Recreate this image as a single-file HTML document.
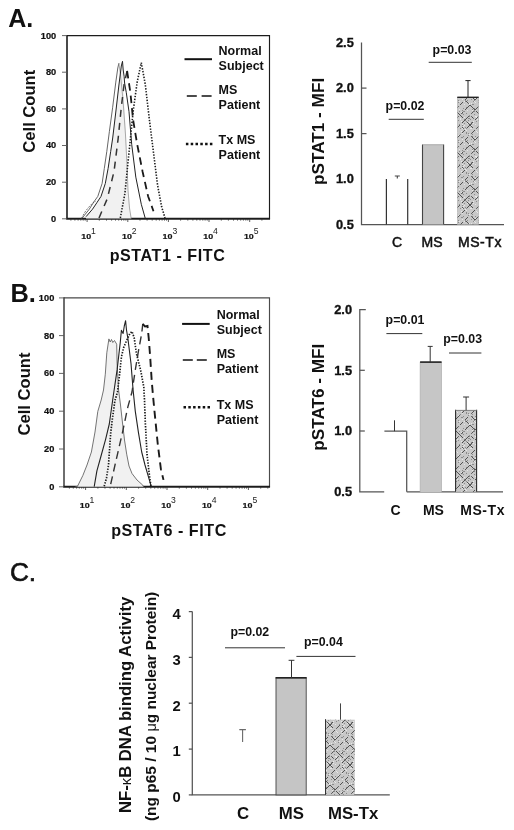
<!DOCTYPE html>
<html><head><meta charset="utf-8"><title>Figure</title>
<style>
html,body{margin:0;padding:0;background:#fff;}
body{width:514px;height:830px;overflow:hidden;}
svg{display:block;font-family:"Liberation Sans",sans-serif;}
.b{font-weight:bold;}
.ax{stroke:#555;stroke-width:1.25;fill:none;}
.tk{font-size:8.5px;font-weight:bold;fill:#111;stroke:#111;stroke-width:0.2;}
.sup{font-size:8.6px;fill:#222;}
.lg{font-size:12.5px;font-weight:bold;fill:#111;}
.pv{font-size:12.35px;font-weight:bold;fill:#111;}
.yt{font-size:12.8px;font-weight:bold;fill:#111;stroke:#111;stroke-width:0.35;}
.xl{font-size:14px;fill:#111;stroke:#111;stroke-width:0.5;}
.xlb{font-size:14px;fill:#111;font-weight:bold;}
</style></head><body>
<svg width="514" height="830" viewBox="0 0 514 830">
<defs>
<pattern id="hatch" width="20" height="40" patternUnits="userSpaceOnUse">
<rect width="20" height="40" fill="#c8c8c8"/>
<path d="M8 0.5h1M19 21.5h1M9 24.5h1M2 4.5h1M2 13.5h1M18 15.5h1M0 38.5h1M11 23.5h1M19 29.5h1M4 37.5h1M15 36.5h1M4 24.5h1M5 9.5h1M9 14.5h1M19 15.5h1M6 10.5h1M17 12.5h1M12 30.5h1M19 5.5h1M13 3.5h1M3 6.5h1M1 32.5h1M8 15.5h1M12 16.5h1M13 38.5h1M15 18.5h1M16 11.5h1M2 8.5h1M7 30.5h1M17 39.5h1M19 4.5h1M8 13.5h1M6 1.5h1M2 17.5h1M13 28.5h1M7 3.5h1M1 11.5h1M9 23.5h1M16 36.5h1M4 5.5h1M11 8.5h1M14 21.5h1M16 37.5h1M4 37.5h1M1 1.5h1M15 22.5h1M9 2.5h1M0 38.5h1M2 30.5h1M2 19.5h1M10 8.5h1M2 4.5h1M14 34.5h1M11 2.5h1M4 21.5h1M11 5.5h1M15 4.5h1M13 1.5h1M15 36.5h1M0 39.5h1" stroke="#e6e6e6" stroke-width="1" fill="none"/>
<path d="M12 24.5h1M18 0.5h1M19 4.5h1M2 5.5h1M3 16.5h1M13 21.5h1M12 37.5h1M14 28.5h1M14 34.5h1M2 33.5h1M16 1.5h1M9 38.5h1M2 30.5h1M0 14.5h1M3 31.5h1M19 31.5h1M8 0.5h1M11 19.5h1M4 39.5h1M6 33.5h1M5 21.5h1M14 31.5h1M7 20.5h1M12 16.5h1M6 27.5h1M6 13.5h1M12 14.5h1M18 20.5h1M6 8.5h1M4 31.5h1M11 2.5h1M2 17.5h1M5 7.5h1M14 30.5h1M8 13.5h1M13 24.5h1M16 31.5h1M10 39.5h1M14 20.5h1M2 2.5h1M8 38.5h1M1 17.5h1M18 22.5h1M9 36.5h1M0 8.5h1M12 29.5h1M6 1.5h1M8 15.5h1M4 3.5h1M3 28.5h1M3 34.5h1M11 4.5h1M6 12.5h1M15 16.5h1M5 0.5h1" stroke="#8c8c8c" stroke-width="1" fill="none"/>
<path d="M2.0 7.0L3.8 8.8 M2.0 3.0L5.0 0.0 M2.0 13.0L5.0 10.0 M0.0 25.0L3.0 22.0 M0.0 35.0L3.0 38.0 M1.2 33.8L3.0 32.0 M7.0 2.0L10.0 5.0 M5.0 0.0L10.0 -5.0 M7.0 8.0L10.0 5.0 M5.5 20.5L8.8 23.8 M5.0 20.0L8.0 17.0 M5.0 30.0L10.0 25.0 M5.5 40.5L8.8 43.8 M5.0 40.0L9.5 35.5 M10.0 5.0L13.0 8.0 M10.0 5.0L13.0 2.0 M11.2 16.2L15.0 20.0 M11.2 13.8L15.0 10.0 M10.0 25.0L15.0 30.0 M11.2 36.2L13.8 38.8 M11.2 33.8L13.8 31.2 M15.5 -0.5L19.5 -4.5 M16.2 8.8L20.0 5.0 M15.0 20.0L20.0 15.0 M16.2 31.2L20.0 35.0 M15.0 30.0L18.8 26.2 M15.0 40.0L18.8 43.8 M15.0 40.0L18.8 36.2 M20.0 5.0L25.0 10.0 M22.0 17.0L24.5 19.5 M20.0 15.0L25.0 10.0 M22.0 23.0L23.0 22.0 M20.0 35.0L23.8 31.2" stroke="#333" stroke-width="0.8" fill="none"/>
</pattern>
</defs>
<rect width="514" height="830" fill="#fff"/>

<text transform="translate(8.2 26.6) scale(0.95 1)" text-anchor="start" font-size="26.4px" class="b" fill="#111" >A.</text>
<path d="M67 35.6H269.5V218.8" stroke="#1c1c1c" stroke-width="1.15" fill="none"/>
<path d="M67 35.050000000000004V218.8" stroke="#1c1c1c" stroke-width="1.6" fill="none"/>
<line x1="66.2" y1="218.8" x2="270.05" y2="218.8" stroke="#1c1c1c" stroke-width="2"/>
<line x1="62" y1="35.6" x2="67" y2="35.6" stroke="#555" stroke-width="0.9"/>
<text transform="translate(56.2 38.5) scale(1.09 1)" text-anchor="end" class="tk">100</text>
<line x1="62" y1="72.2" x2="67" y2="72.2" stroke="#555" stroke-width="0.9"/>
<text transform="translate(56.2 75.1) scale(1.09 1)" text-anchor="end" class="tk">80</text>
<line x1="62" y1="108.9" x2="67" y2="108.9" stroke="#555" stroke-width="0.9"/>
<text transform="translate(56.2 111.8) scale(1.09 1)" text-anchor="end" class="tk">60</text>
<line x1="62" y1="145.5" x2="67" y2="145.5" stroke="#555" stroke-width="0.9"/>
<text transform="translate(56.2 148.4) scale(1.09 1)" text-anchor="end" class="tk">40</text>
<line x1="62" y1="182.2" x2="67" y2="182.2" stroke="#555" stroke-width="0.9"/>
<text transform="translate(56.2 185.1) scale(1.09 1)" text-anchor="end" class="tk">20</text>
<line x1="62" y1="218.8" x2="67" y2="218.8" stroke="#555" stroke-width="0.9"/>
<text transform="translate(56.2 221.7) scale(1.09 1)" text-anchor="end" class="tk">0</text>
<path d="M70.9 218.8v1.8 M74.9 218.8v1.8 M78.1 218.8v1.8 M80.8 218.8v1.8 M83.2 218.8v1.8 M85.2 218.8v1.8 M87.1 218.8v3.2 M99.3 218.8v1.8 M106.5 218.8v1.8 M111.6 218.8v1.8 M115.5 218.8v1.8 M118.7 218.8v1.8 M121.5 218.8v1.8 M123.8 218.8v1.8 M125.9 218.8v1.8 M127.8 218.8v3.2 M140.0 218.8v1.8 M147.1 218.8v1.8 M152.2 218.8v1.8 M156.2 218.8v1.8 M159.4 218.8v1.8 M162.1 218.8v1.8 M164.5 218.8v1.8 M166.5 218.8v1.8 M168.4 218.8v3.2 M180.6 218.8v1.8 M187.8 218.8v1.8 M192.9 218.8v1.8 M196.8 218.8v1.8 M200.0 218.8v1.8 M202.8 218.8v1.8 M205.1 218.8v1.8 M207.2 218.8v1.8 M209.0 218.8v3.2 M221.3 218.8v1.8 M228.4 218.8v1.8 M233.5 218.8v1.8 M237.5 218.8v1.8 M240.7 218.8v1.8 M243.4 218.8v1.8 M245.8 218.8v1.8 M247.8 218.8v1.8 M249.7 218.8v3.2 M261.9 218.8v1.8" stroke="#333" stroke-width="0.8" fill="none"/>
<text transform="translate(81.3 239) scale(1.14 1)" class="tk" style="font-size:7.8px">10</text><text x="91.1" y="234.1" class="sup">1</text>
<text transform="translate(122.0 239) scale(1.14 1)" class="tk" style="font-size:7.8px">10</text><text x="131.8" y="234.1" class="sup">2</text>
<text transform="translate(162.6 239) scale(1.14 1)" class="tk" style="font-size:7.8px">10</text><text x="172.4" y="234.1" class="sup">3</text>
<text transform="translate(203.2 239) scale(1.14 1)" class="tk" style="font-size:7.8px">10</text><text x="213.0" y="234.1" class="sup">4</text>
<text transform="translate(243.9 239) scale(1.14 1)" class="tk" style="font-size:7.8px">10</text><text x="253.7" y="234.1" class="sup">5</text>
<polygon points="86.0,216.7 92.5,209.2 96.8,202.8 101.0,196.4 105.3,183.5 108.1,168.5 110.7,151.4 112.7,138.0 115.8,112.0 118.8,86.0 121.3,66.0 122.5,61.3 124.0,100.0 126.0,135.0 127.0,165.0 128.0,190.0 129.5,208.0 131.2,218.5 86.0,218.5" fill="#f1f1f1" stroke="none"/>
<polyline points="81.8,218.5 89.3,209.2 94.0,201.7 97.8,196.4 102.1,183.5 104.3,168.5 106.8,151.4 109.4,131.4 112.6,107.8 115.8,82.1 117.8,68.0 118.9,63.2" fill="none" stroke="#4a4a4a" stroke-width="0.85"/>
<polyline points="118.9,63.2 120.5,75.0 123.0,100.0 125.5,135.0 127.0,165.0 128.0,190.0 129.5,208.0 131.2,218.5" fill="none" stroke="#888" stroke-width="0.7"/>
<polyline points="81.4,218.3 85.0,212.0 88.0,208.0 93.1,202.5 96.0,201.3" fill="none" stroke="#555" stroke-width="0.8" stroke-dasharray="2 1.2"/>
<polyline points="86.0,216.7 92.5,209.2 96.8,202.8 101.0,196.4 105.3,183.5 108.1,168.5 110.7,151.4 112.7,138.0 115.8,112.0 118.8,86.0 121.3,66.0 122.5,61.3 123.2,70.0 124.1,76.3 124.6,83.0 126.3,92.7 129.0,111.7 131.7,144.4 135.8,177.1 141.3,204.3 145.3,218.5" fill="none" stroke="#222" stroke-width="1" stroke-linejoin="round"/>
<polyline points="99.0,218.0 107.2,198.9 114.0,171.7 118.1,139.0 121.4,106.3 124.1,84.5 127.1,70.9" fill="none" stroke="#333" stroke-width="1.5" stroke-dasharray="7 6"/>
<polyline points="127.1,70.9 130.4,92.7 133.1,119.9 137.2,144.4 142.6,171.7 148.1,196.2 153.5,211.2" fill="none" stroke="#1a1a1a" stroke-width="1.8" stroke-dasharray="7.5 5"/>
<polyline points="120.3,218.0 124.9,193.5 127.6,166.2 130.4,139.0 133.1,111.7 137.2,81.8 141.3,62.7 145.3,84.5 149.4,119.9 153.5,152.6 157.6,185.3 161.7,207.1 165.0,218.0" fill="none" stroke="#1c1c1c" stroke-width="1.6" stroke-dasharray="1.4 1.5"/>
<line x1="184.5" y1="59.2" x2="212" y2="59.2" stroke="#111" stroke-width="2"/>
<text x="218.6" y="54.5" class="lg">Normal</text><text x="218.6" y="69.7" class="lg">Subject</text>
<line x1="186.8" y1="96" x2="211.6" y2="96" stroke="#111" stroke-width="1.5" stroke-dasharray="10 4.8"/>
<text x="218.6" y="93.5" class="lg">MS</text><text x="218.6" y="108.7" class="lg">Patient</text>
<line x1="185.9" y1="144" x2="212.5" y2="144" stroke="#111" stroke-width="2.5" stroke-dasharray="2.5 2.3"/>
<text x="218.6" y="144.4" class="lg">Tx MS</text><text x="218.6" y="159.3" class="lg">Patient</text>
<text transform="translate(167.5 261.3)" text-anchor="middle" font-size="16.1px" class="b" fill="#111" letter-spacing="0.55">pSTAT1 - FITC</text>
<text transform="translate(34.8 111.2) rotate(-90)" text-anchor="middle" font-size="16.6px" class="b" fill="#111">Cell Count</text>
<text transform="translate(10.4 301.6)" text-anchor="start" font-size="25.4px" class="b" fill="#111" >B.</text>
<path d="M64 297.85H269.5V486.8" stroke="#4a4a4a" stroke-width="1.15" fill="none"/>
<path d="M64 297.3V486.8" stroke="#4a4a4a" stroke-width="1.6" fill="none"/>
<line x1="63.2" y1="486.8" x2="270.05" y2="486.8" stroke="#1c1c1c" stroke-width="2"/>
<line x1="59" y1="297.9" x2="64" y2="297.9" stroke="#555" stroke-width="0.9"/>
<text transform="translate(54.3 300.8) scale(1.09 1)" text-anchor="end" class="tk">100</text>
<line x1="59" y1="335.6" x2="64" y2="335.6" stroke="#555" stroke-width="0.9"/>
<text transform="translate(54.3 338.5) scale(1.09 1)" text-anchor="end" class="tk">80</text>
<line x1="59" y1="373.4" x2="64" y2="373.4" stroke="#555" stroke-width="0.9"/>
<text transform="translate(54.3 376.3) scale(1.09 1)" text-anchor="end" class="tk">60</text>
<line x1="59" y1="411.2" x2="64" y2="411.2" stroke="#555" stroke-width="0.9"/>
<text transform="translate(54.3 414.1) scale(1.09 1)" text-anchor="end" class="tk">40</text>
<line x1="59" y1="449.0" x2="64" y2="449.0" stroke="#555" stroke-width="0.9"/>
<text transform="translate(54.3 451.9) scale(1.09 1)" text-anchor="end" class="tk">20</text>
<line x1="59" y1="486.8" x2="64" y2="486.8" stroke="#555" stroke-width="0.9"/>
<text transform="translate(54.3 489.7) scale(1.09 1)" text-anchor="end" class="tk">0</text>
<path d="M69.4 486.8v1.8 M73.3 486.8v1.8 M76.6 486.8v1.8 M79.3 486.8v1.8 M81.7 486.8v1.8 M83.7 486.8v1.8 M85.6 486.8v3.2 M97.9 486.8v1.8 M105.0 486.8v1.8 M110.1 486.8v1.8 M114.0 486.8v1.8 M117.3 486.8v1.8 M120.0 486.8v1.8 M122.4 486.8v1.8 M124.4 486.8v1.8 M126.3 486.8v3.2 M138.6 486.8v1.8 M145.7 486.8v1.8 M150.8 486.8v1.8 M154.7 486.8v1.8 M158.0 486.8v1.8 M160.7 486.8v1.8 M163.1 486.8v1.8 M165.1 486.8v1.8 M167.0 486.8v3.2 M179.3 486.8v1.8 M186.4 486.8v1.8 M191.5 486.8v1.8 M195.4 486.8v1.8 M198.7 486.8v1.8 M201.4 486.8v1.8 M203.8 486.8v1.8 M205.8 486.8v1.8 M207.7 486.8v3.2 M220.0 486.8v1.8 M227.1 486.8v1.8 M232.2 486.8v1.8 M236.1 486.8v1.8 M239.4 486.8v1.8 M242.1 486.8v1.8 M244.5 486.8v1.8 M246.5 486.8v1.8 M248.4 486.8v3.2 M260.7 486.8v1.8 M267.8 486.8v1.8" stroke="#333" stroke-width="0.8" fill="none"/>
<text transform="translate(79.8 507.5) scale(1.14 1)" class="tk" style="font-size:7.8px">10</text><text x="89.6" y="502.6" class="sup">1</text>
<text transform="translate(120.5 507.5) scale(1.14 1)" class="tk" style="font-size:7.8px">10</text><text x="130.3" y="502.6" class="sup">2</text>
<text transform="translate(161.2 507.5) scale(1.14 1)" class="tk" style="font-size:7.8px">10</text><text x="171.0" y="502.6" class="sup">3</text>
<text transform="translate(201.9 507.5) scale(1.14 1)" class="tk" style="font-size:7.8px">10</text><text x="211.7" y="502.6" class="sup">4</text>
<text transform="translate(242.6 507.5) scale(1.14 1)" class="tk" style="font-size:7.8px">10</text><text x="252.4" y="502.6" class="sup">5</text>
<polygon points="75.4,486.7 77.5,486.3 82.8,475.6 87.0,465.0 91.4,452.0 95.0,432.0 97.8,411.4 101.2,400.0 103.5,390.0 105.3,374.2 106.8,352.8 108.9,338.9 110.2,342.0 111.5,339.5 112.8,342.5 114.5,340.5 116.7,344.2 117.1,363.5 118.6,390.0 120.5,405.0 122.4,422.0 124.5,440.0 126.7,454.2 129.0,466.0 132.0,473.5 137.0,480.0 142.8,485.2 143.5,486.7" fill="#f1f1f1" stroke="none"/>
<polyline points="75.4,486.7 77.5,486.3 82.8,475.6 87.0,465.0 91.4,452.0 95.0,432.0 97.8,411.4 101.2,400.0 103.5,390.0 105.3,374.2 106.8,352.8 108.9,338.9 110.2,342.0 111.5,339.5 112.8,342.5 114.5,340.5 116.7,344.2 117.1,363.5 118.6,390.0 120.5,405.0 122.4,422.0 124.5,440.0 126.7,454.2 129.0,466.0 132.0,473.5 137.0,480.0 142.8,485.2 143.5,486.7" fill="none" stroke="#5c5c5c" stroke-width="0.85"/>
<polyline points="94.2,486.7 96.9,470.8 101.3,455.0 105.6,439.3 109.3,424.0 113.4,395.0 117.1,369.9 120.3,342.1 121.4,330.3 123.1,333.5 124.3,326.0 125.6,320.7 126.5,330.0 127.8,337.8 131.0,363.5 133.1,390.0 135.3,411.4 138.5,432.8 141.7,452.0 145.0,465.0 148.1,475.6 151.3,486.7" fill="none" stroke="#222" stroke-width="1.1" stroke-linejoin="round"/>
<polyline points="104.2,486.3 106.5,478.0 108.5,464.9 110.7,432.8 112.5,418.0 114.9,400.7 117.5,392.0 119.6,374.2 121.4,357.1 123.5,348.0 126.0,342.0 129.9,333.5 132.0,331.4 134.2,337.8 136.3,352.8 138.5,362.0 140.6,369.9 143.8,387.0 144.5,399.9 145.3,422.1 147.0,454.2 149.0,472.0 150.9,486.3" fill="none" stroke="#1a1a1a" stroke-width="1.7" stroke-dasharray="1.4 1.4"/>
<polyline points="110.7,484.2 116.0,460.6 122.4,432.8 127.8,407.1 132.0,392.0 135.3,369.9 138.5,350.7 141.7,333.5 142.8,323.9" fill="none" stroke="#333" stroke-width="1.4" stroke-dasharray="8 5"/>
<polyline points="142.8,323.9 145.0,326.5 147.5,326.0 148.7,337.8 150.2,357.1 151.7,380.6 153.0,395.6 154.5,411.4 157.7,443.5 160.9,469.2 163.5,479.9" fill="none" stroke="#1a1a1a" stroke-width="1.9" stroke-dasharray="8 5"/>
<line x1="182.1" y1="323.9" x2="209.7" y2="323.9" stroke="#111" stroke-width="2"/>
<text x="216.7" y="319.2" class="lg">Normal</text><text x="216.7" y="334.4" class="lg">Subject</text>
<line x1="182.8" y1="360" x2="207" y2="360" stroke="#111" stroke-width="1.5" stroke-dasharray="10 4"/>
<text x="216.7" y="357.7" class="lg">MS</text><text x="216.7" y="372.9" class="lg">Patient</text>
<line x1="183.5" y1="407.2" x2="211" y2="407.2" stroke="#111" stroke-width="2.5" stroke-dasharray="2.5 2.3"/>
<text x="216.7" y="408.6" class="lg">Tx MS</text><text x="216.7" y="423.8" class="lg">Patient</text>
<text transform="translate(169 535.6)" text-anchor="middle" font-size="16.1px" class="b" fill="#111" letter-spacing="0.55">pSTAT6 - FITC</text>
<text transform="translate(30.3 394) rotate(-90)" text-anchor="middle" font-size="16.6px" class="b" fill="#111">Cell Count</text>
<path d="M361.5 42.6V224.5H504" class="ax"/>
<text x="353.8" y="46.9" text-anchor="end" class="yt">2.5</text>
<line x1="361.5" y1="88.1" x2="366.5" y2="88.1" class="ax"/>
<text x="353.8" y="92.4" text-anchor="end" class="yt">2.0</text>
<line x1="361.5" y1="133.6" x2="366.5" y2="133.6" class="ax"/>
<text x="353.8" y="137.9" text-anchor="end" class="yt">1.5</text>
<text x="353.8" y="183.3" text-anchor="end" class="yt">1.0</text>
<text x="353.8" y="228.8" text-anchor="end" class="yt">0.5</text>
<text transform="translate(323.5 131.4) rotate(-90) scale(1.035 1)" text-anchor="middle" font-size="16.6px" class="b" fill="#111" >pSTAT1 - MFI</text>
<path d="M386.4 224.5V179M407.7 224.5V179" stroke="#333" stroke-width="1.2" fill="none"/>
<path d="M397.3 178.6V176M394.8 176h5" stroke="#444" stroke-width="1.1" fill="none"/>
<rect x="422.4" y="144.6" width="21.4" height="79.9" fill="#c5c5c5"/><path d="M422.5 144.6V224.5M443.6 144.6V224.5" stroke="#444" stroke-width="1.1" fill="none"/><path d="M422.4 144.7H443.8" stroke="#9a9a9a" stroke-width="0.7" fill="none"/>
<rect x="457.3" y="97.3" width="21.4" height="127.2" fill="url(#hatch)" stroke="#aaa" stroke-width="0.5"/>
<line x1="457.3" y1="97.3" x2="478.7" y2="97.3" stroke="#222" stroke-width="1.4"/>
<path d="M468 97.3V80.6M465.4 80.6h5.2" stroke="#222" stroke-width="1" fill="none"/>
<text x="405" y="110.3" text-anchor="middle" class="pv">p=0.02</text><line x1="388.7" y1="119.3" x2="423.8" y2="119.3" stroke="#333" stroke-width="1"/>
<text x="452" y="53.6" text-anchor="middle" class="pv">p=0.03</text><line x1="428.7" y1="62.3" x2="471.8" y2="62.3" stroke="#333" stroke-width="1"/>
<text x="397" y="247" text-anchor="middle" class="xl">C</text><text x="432" y="247" text-anchor="middle" class="xl">MS</text><text x="480" y="247" text-anchor="middle" class="xl" letter-spacing="0.6">MS-Tx</text>
<path d="M365.8 309.5H359.8V491.8H384.2M406.7 491.8H503" class="ax"/>
<text x="352" y="313.8" text-anchor="end" class="yt">2.0</text>
<line x1="359.8" y1="370.3" x2="364.8" y2="370.3" class="ax"/>
<text x="352" y="374.6" text-anchor="end" class="yt">1.5</text>
<line x1="359.8" y1="431.0" x2="364.8" y2="431.0" class="ax"/>
<text x="352" y="435.3" text-anchor="end" class="yt">1.0</text>
<text x="352" y="496.1" text-anchor="end" class="yt">0.5</text>
<text transform="translate(323.6 397.2) rotate(-90) scale(1.035 1)" text-anchor="middle" font-size="16.6px" class="b" fill="#111" >pSTAT6 - MFI</text>
<path d="M384.4 431.2H406.7V491.8" class="ax"/>
<path d="M394.5 431.2V420.3" stroke="#333" stroke-width="1" fill="none"/>
<rect x="420.1" y="362.1" width="21.5" height="130.2" fill="#c6c6c6" stroke="#aaa" stroke-width="0.6"/>
<line x1="420.1" y1="362.1" x2="441.6" y2="362.1" stroke="#222" stroke-width="1.6"/>
<path d="M430.2 362.1V346.4M427.7 346.4h5" stroke="#333" stroke-width="1" fill="none"/>
<rect x="455.5" y="410.4" width="21.2" height="81.4" fill="url(#hatch)"/><path d="M455.6 409.8V491.8M476.6 409.8V491.8" stroke="#2a2a2a" stroke-width="1.1" fill="none"/>
<line x1="455.5" y1="410.4" x2="476.7" y2="410.4" stroke="#777" stroke-width="0.9"/>
<path d="M466.1 410.4V397M463.1 397h6" stroke="#333" stroke-width="1" fill="none"/>
<text x="405" y="323.6" text-anchor="middle" class="pv">p=0.01</text><line x1="386.4" y1="333.6" x2="422.3" y2="333.6" stroke="#333" stroke-width="1"/>
<text x="462.7" y="342.5" text-anchor="middle" class="pv">p=0.03</text><line x1="449" y1="353" x2="481.4" y2="353" stroke="#333" stroke-width="1"/>
<text x="395.5" y="514.7" text-anchor="middle" class="xlb">C</text><text x="433.4" y="514.7" text-anchor="middle" class="xlb">MS</text><text x="482.6" y="514.7" text-anchor="middle" class="xlb" letter-spacing="0.55">MS-Tx</text>
<text x="9.9" y="580.6" font-size="26.2px" fill="#111" stroke="#111" stroke-width="0.65">C.</text>
<path d="M192.3 611.6V794.9H389.8" class="ax"/>
<line x1="188.8" y1="611.6" x2="192.3" y2="611.6" class="ax"/>
<text x="176.6" y="618.9" text-anchor="middle" font-size="14.8px" class="b" fill="#111">4</text>
<line x1="188.8" y1="657.4" x2="192.3" y2="657.4" class="ax"/>
<text x="176.6" y="664.7" text-anchor="middle" font-size="14.8px" class="b" fill="#111">3</text>
<line x1="188.8" y1="703.2" x2="192.3" y2="703.2" class="ax"/>
<text x="176.6" y="710.5" text-anchor="middle" font-size="14.8px" class="b" fill="#111">2</text>
<line x1="188.8" y1="749.1" x2="192.3" y2="749.1" class="ax"/>
<text x="176.6" y="756.4" text-anchor="middle" font-size="14.8px" class="b" fill="#111">1</text>
<line x1="188.8" y1="794.9" x2="192.3" y2="794.9" class="ax"/>
<text x="176.6" y="802.2" text-anchor="middle" font-size="14.8px" class="b" fill="#111">0</text>
<text transform="translate(130.6 704.8) rotate(-90) scale(1.005 1)" text-anchor="middle" font-size="16.6px" class="b" fill="#111" >NF-<tspan font-weight="normal" font-size="14.5px">κ</tspan>B DNA binding Activity</text>
<text transform="translate(155.6 706.4) rotate(-90) scale(1.032 1)" text-anchor="middle" font-size="15.0px" class="b" fill="#111" >(ng p65 / 10 <tspan font-weight="normal" font-size="14px">μ</tspan>g nuclear Protein)</text>
<path d="M242.6 742V729.6M239.29999999999998 729.6h6.6" stroke="#6a6a6a" stroke-width="1.1" fill="none"/>
<rect x="276" y="677.8" width="30.2" height="117.1" fill="#c5c5c5" stroke="#444" stroke-width="0.9"/>
<line x1="275.6" y1="677.8" x2="306.6" y2="677.8" stroke="#222" stroke-width="1.6"/>
<path d="M291.5 677.8V660.3M288.6 660.3h5.8" stroke="#333" stroke-width="1" fill="none"/>
<rect x="325.5" y="719.7" width="29.3" height="75.2" fill="url(#hatch)"/><line x1="325.5" y1="719.2" x2="325.5" y2="794.9" stroke="#333" stroke-width="1"/>
<path d="M340.5 719.7V703.4" stroke="#444" stroke-width="1" fill="none"/>
<text x="249.8" y="636.2" text-anchor="middle" class="pv">p=0.02</text><line x1="225" y1="647.8" x2="285" y2="647.8" stroke="#333" stroke-width="1"/>
<text x="323.4" y="645.6" text-anchor="middle" class="pv">p=0.04</text><line x1="296.4" y1="656.4" x2="355.5" y2="656.4" stroke="#333" stroke-width="1"/>
<text transform="translate(243.1 818.8)" text-anchor="middle" font-size="16.8px" class="b" fill="#111" >C</text><text transform="translate(291.4 818.8)" text-anchor="middle" font-size="16.8px" class="b" fill="#111" >MS</text><text transform="translate(353.1 818.8)" text-anchor="middle" font-size="16.8px" class="b" fill="#111" >MS-Tx</text>
</svg></body></html>
